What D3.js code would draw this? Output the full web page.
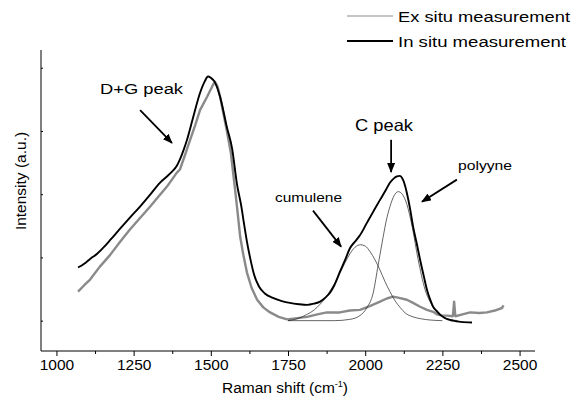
<!DOCTYPE html>
<html>
<head>
<meta charset="utf-8">
<script src="https://cdn.jsdelivr.net/npm/d3@7"></script>
<style>
  html, body { margin: 0; padding: 0; background: #fff; }
  svg { display: block; font-family: "Liberation Sans", Arial, Helvetica, sans-serif; }
</style>
</head>
<body>
<svg id="chart" width="582" height="409"></svg>
<script>
// ---- data ----
const xTicks = [1000, 1250, 1500, 1750, 2000, 2250, 2500];
const xMinorTicks = [1125, 1375, 1625, 1875, 2125, 2375];
const yTicks = [0, 1, 2, 3, 4];

const seriesNames = ["Ex situ measurement", "In situ measurement"];

// In situ measurement (black)
const inSitu = [[1070,0.84],[1090,0.90],[1110,0.98],[1130,1.05],[1151,1.15],[1175,1.28],[1200,1.42],[1238,1.63],[1270,1.80],[1303,1.99],[1335,2.18],[1358,2.28],[1375,2.36],[1390,2.45],[1400,2.55],[1412,2.70],[1423,2.86],[1442,3.20],[1465,3.60],[1480,3.78],[1491,3.86],[1500,3.84],[1512,3.78],[1530,3.54],[1552,3.06],[1569,2.72],[1585,2.15],[1598,1.83],[1608,1.52],[1617,1.25],[1627,1.00],[1640,0.73],[1656,0.54],[1675,0.43],[1701,0.36],[1730,0.31],[1756,0.28],[1785,0.26],[1812,0.25],[1835,0.27],[1854,0.30],[1870,0.36],[1886,0.44],[1900,0.56],[1918,0.77],[1935,0.96],[1951,1.15],[1967,1.25],[1983,1.35],[2006,1.55],[2028,1.74],[2048,1.91],[2065,2.05],[2080,2.18],[2093,2.25],[2103,2.28],[2112,2.29],[2119,2.26],[2127,2.17],[2135,2.02],[2145,1.78],[2155,1.49],[2167,1.22],[2178,0.96],[2190,0.70],[2200,0.49],[2210,0.34],[2220,0.22],[2232,0.15],[2242,0.10],[2255,0.05],[2268,0.02],[2284,0.0],[2310,-0.02],[2346,-0.03]];

// Ex situ measurement (grey)
const exSitu = [[1070,0.46],[1090,0.56],[1109,0.65],[1140,0.85],[1174,1.04],[1205,1.24],[1238,1.44],[1270,1.62],[1303,1.80],[1330,1.96],[1358,2.12],[1390,2.34],[1400,2.39],[1415,2.60],[1433,2.86],[1450,3.10],[1465,3.33],[1488,3.54],[1504,3.70],[1513,3.78],[1522,3.70],[1530,3.54],[1550,3.05],[1565,2.65],[1578,2.10],[1587,1.70],[1595,1.33],[1605,1.05],[1617,0.76],[1632,0.52],[1650,0.33],[1670,0.21],[1692,0.13],[1720,0.06],[1747,0.02],[1780,0.04],[1812,0.06],[1845,0.10],[1876,0.13],[1918,0.13],[1950,0.16],[1983,0.17],[2015,0.23],[2048,0.30],[2070,0.35],[2090,0.38],[2110,0.36],[2135,0.33],[2155,0.28],[2178,0.22],[2200,0.17],[2220,0.14],[2232,0.10],[2250,0.08],[2265,0.08],[2284,0.07],[2288,0.30],[2292,0.07],[2315,0.10],[2340,0.13],[2370,0.12],[2394,0.13],[2420,0.16],[2443,0.20],[2448,0.24]];

// fitted components (thin lines)
const cumuleneFit = [[1750,0.0],[1780,0.03],[1812,0.10],[1835,0.17],[1854,0.26],[1870,0.35],[1886,0.47],[1900,0.58],[1918,0.75],[1935,0.92],[1951,1.06],[1967,1.16],[1985,1.20],[2000,1.18],[2016,1.09],[2032,0.96],[2048,0.80],[2064,0.62],[2080,0.46],[2096,0.32],[2113,0.21],[2130,0.12],[2155,0.06],[2180,0.03],[2210,0.01],[2250,0.0]];
const polyyneFit = [[1750,0],[1900,0],[1950,0.02],[1983,0.08],[2005,0.2],[2026,0.44],[2042,0.88],[2058,1.32],[2070,1.62],[2080,1.80],[2094,1.98],[2107,2.04],[2120,2.00],[2135,1.84],[2152,1.49],[2171,0.98],[2194,0.49],[2210,0.30],[2220,0.22],[2236,0.11],[2252,0.06],[2275,0.02],[2300,0.0]];

// annotation labels
const annLabels = ["D+G peak", "C peak", "cumulene", "polyyne"];

// ---- layout ----
const svg = d3.select("#chart");
const x = d3.scaleLinear().domain([950, 2550]).range([41, 535]);
const y = d3.scaleLinear().domain([-0.48, 4.28]).range([351, 50]);

// axes
const xAxis = d3.axisBottom(x).tickValues(xTicks).tickSize(5).tickPadding(4).tickFormat(d3.format("d"));
const gx = svg.append("g").attr("transform", `translate(0,${y.range()[0]})`).call(xAxis);
gx.select(".domain").attr("d", `M${x.range()[0]},0H${x.range()[1]}`).attr("stroke", "#000");
gx.selectAll(".tick line").attr("stroke", "#000");
gx.selectAll(".tick text").attr("font-size", 15.5).attr("fill", "#000")
  .attr("font-family", "Liberation Sans, Arial, sans-serif").attr("dy", null).attr("y", 19);
const gxm = svg.append("g").attr("transform", `translate(0,${y.range()[0]})`)
  .call(d3.axisBottom(x).tickValues(xMinorTicks).tickSize(3).tickFormat(""));
gxm.select(".domain").remove();
gxm.selectAll(".tick line").attr("stroke", "#000");

const yAxis = d3.axisRight(y).tickValues(yTicks).tickSize(2).tickFormat("");
const gy = svg.append("g").attr("transform", `translate(${x.range()[0]},0)`).call(yAxis);
gy.select(".domain").attr("d", `M0,${y.range()[1]}V${y.range()[0]}`).attr("stroke", "#000");
gy.selectAll(".tick line").attr("stroke", "#000");

// axis titles
const xt = svg.append("text").attr("x", 285).attr("y", 393).attr("text-anchor", "middle")
  .attr("font-size", 15.5).attr("fill", "#000");
xt.append("tspan").text("Raman shift (cm");
xt.append("tspan").text("-1").attr("font-size", 9).attr("dy", -6);
xt.append("tspan").text(")").attr("dy", 6);

svg.append("text").attr("transform", "translate(25.5,181) rotate(-90)").attr("text-anchor", "middle")
  .attr("font-size", 15.5).attr("fill", "#000").text("Intensity (a.u.)");

// lines
const line = d3.line().x(d => x(d[0])).y(d => y(d[1]));
const smooth = d3.line().x(d => x(d[0])).y(d => y(d[1])).curveMonotoneX ? null : null;
const fitLine = d3.line().x(d => x(d[0])).y(d => y(d[1])).curve(d3.curveMonotoneX);

svg.append("path").datum(exSitu).attr("d", line).attr("fill", "none")
  .attr("stroke", "#8a8a8a").attr("stroke-width", 2.4).attr("stroke-linejoin", "round");
svg.append("path").datum(cumuleneFit).attr("d", fitLine).attr("fill", "none")
  .attr("stroke", "#222").attr("stroke-width", 0.7);
svg.append("path").datum(polyyneFit).attr("d", fitLine).attr("fill", "none")
  .attr("stroke", "#222").attr("stroke-width", 0.7);
svg.append("path").datum(inSitu).attr("d", fitLine).attr("fill", "none")
  .attr("stroke", "#000").attr("stroke-width", 1.9).attr("stroke-linejoin", "round");

// arrows
const defs = svg.append("defs");
defs.append("marker").attr("id", "ah").attr("viewBox", "0 0 10 8").attr("refX", 9).attr("refY", 4)
  .attr("markerWidth", 10).attr("markerHeight", 8).attr("markerUnits", "userSpaceOnUse")
  .attr("orient", "auto").append("path").attr("d", "M0,0L10,4L0,8Z").attr("fill", "#000");

const arrows = [
  [[1271, 3.33], [1374, 2.81]],
  [[2084, 2.86], [2084, 2.35]],
  [[1831, 1.74], [1922, 1.17]],
  [[2297, 2.23], [2184, 1.88]]
];
svg.selectAll(".arrow").data(arrows).enter().append("line").attr("class", "arrow")
  .attr("x1", d => x(d[0][0])).attr("y1", d => y(d[0][1]))
  .attr("x2", d => x(d[1][0])).attr("y2", d => y(d[1][1]))
  .attr("stroke", "#000").attr("stroke-width", 1.8).attr("marker-end", "url(#ah)");

// annotation text
const annPos = [
  {x: 100, y: 94, size: 15.5, len: 83},
  {x: 355, y: 131, size: 16.5, len: 58},
  {x: 275, y: 201.5, size: 13.5, len: 67},
  {x: 458, y: 170, size: 13.5, len: 54}
];
svg.selectAll(".ann").data(annLabels).enter().append("text").attr("class", "ann")
  .attr("x", (d, i) => annPos[i].x).attr("y", (d, i) => annPos[i].y)
  .attr("font-size", (d, i) => annPos[i].size)
  .attr("textLength", (d, i) => annPos[i].len).attr("lengthAdjust", "spacingAndGlyphs")
  .attr("fill", "#000").text(d => d);

// legend
const legend = svg.append("g");
const legStyles = [{stroke: "#8a8a8a", w: 1.2, yy: 16, len: 172}, {stroke: "#000", w: 2, yy: 41, len: 168}];
seriesNames.forEach((name, i) => {
  legend.append("line").attr("x1", 347).attr("x2", 393).attr("y1", legStyles[i].yy).attr("y2", legStyles[i].yy)
    .attr("stroke", legStyles[i].stroke).attr("stroke-width", legStyles[i].w);
  legend.append("text").attr("x", 398).attr("y", legStyles[i].yy + 5.5).attr("font-size", 15.5)
    .attr("textLength", legStyles[i].len).attr("lengthAdjust", "spacingAndGlyphs")
    .attr("fill", "#000").text(name);
});
</script>
</body>
</html>
